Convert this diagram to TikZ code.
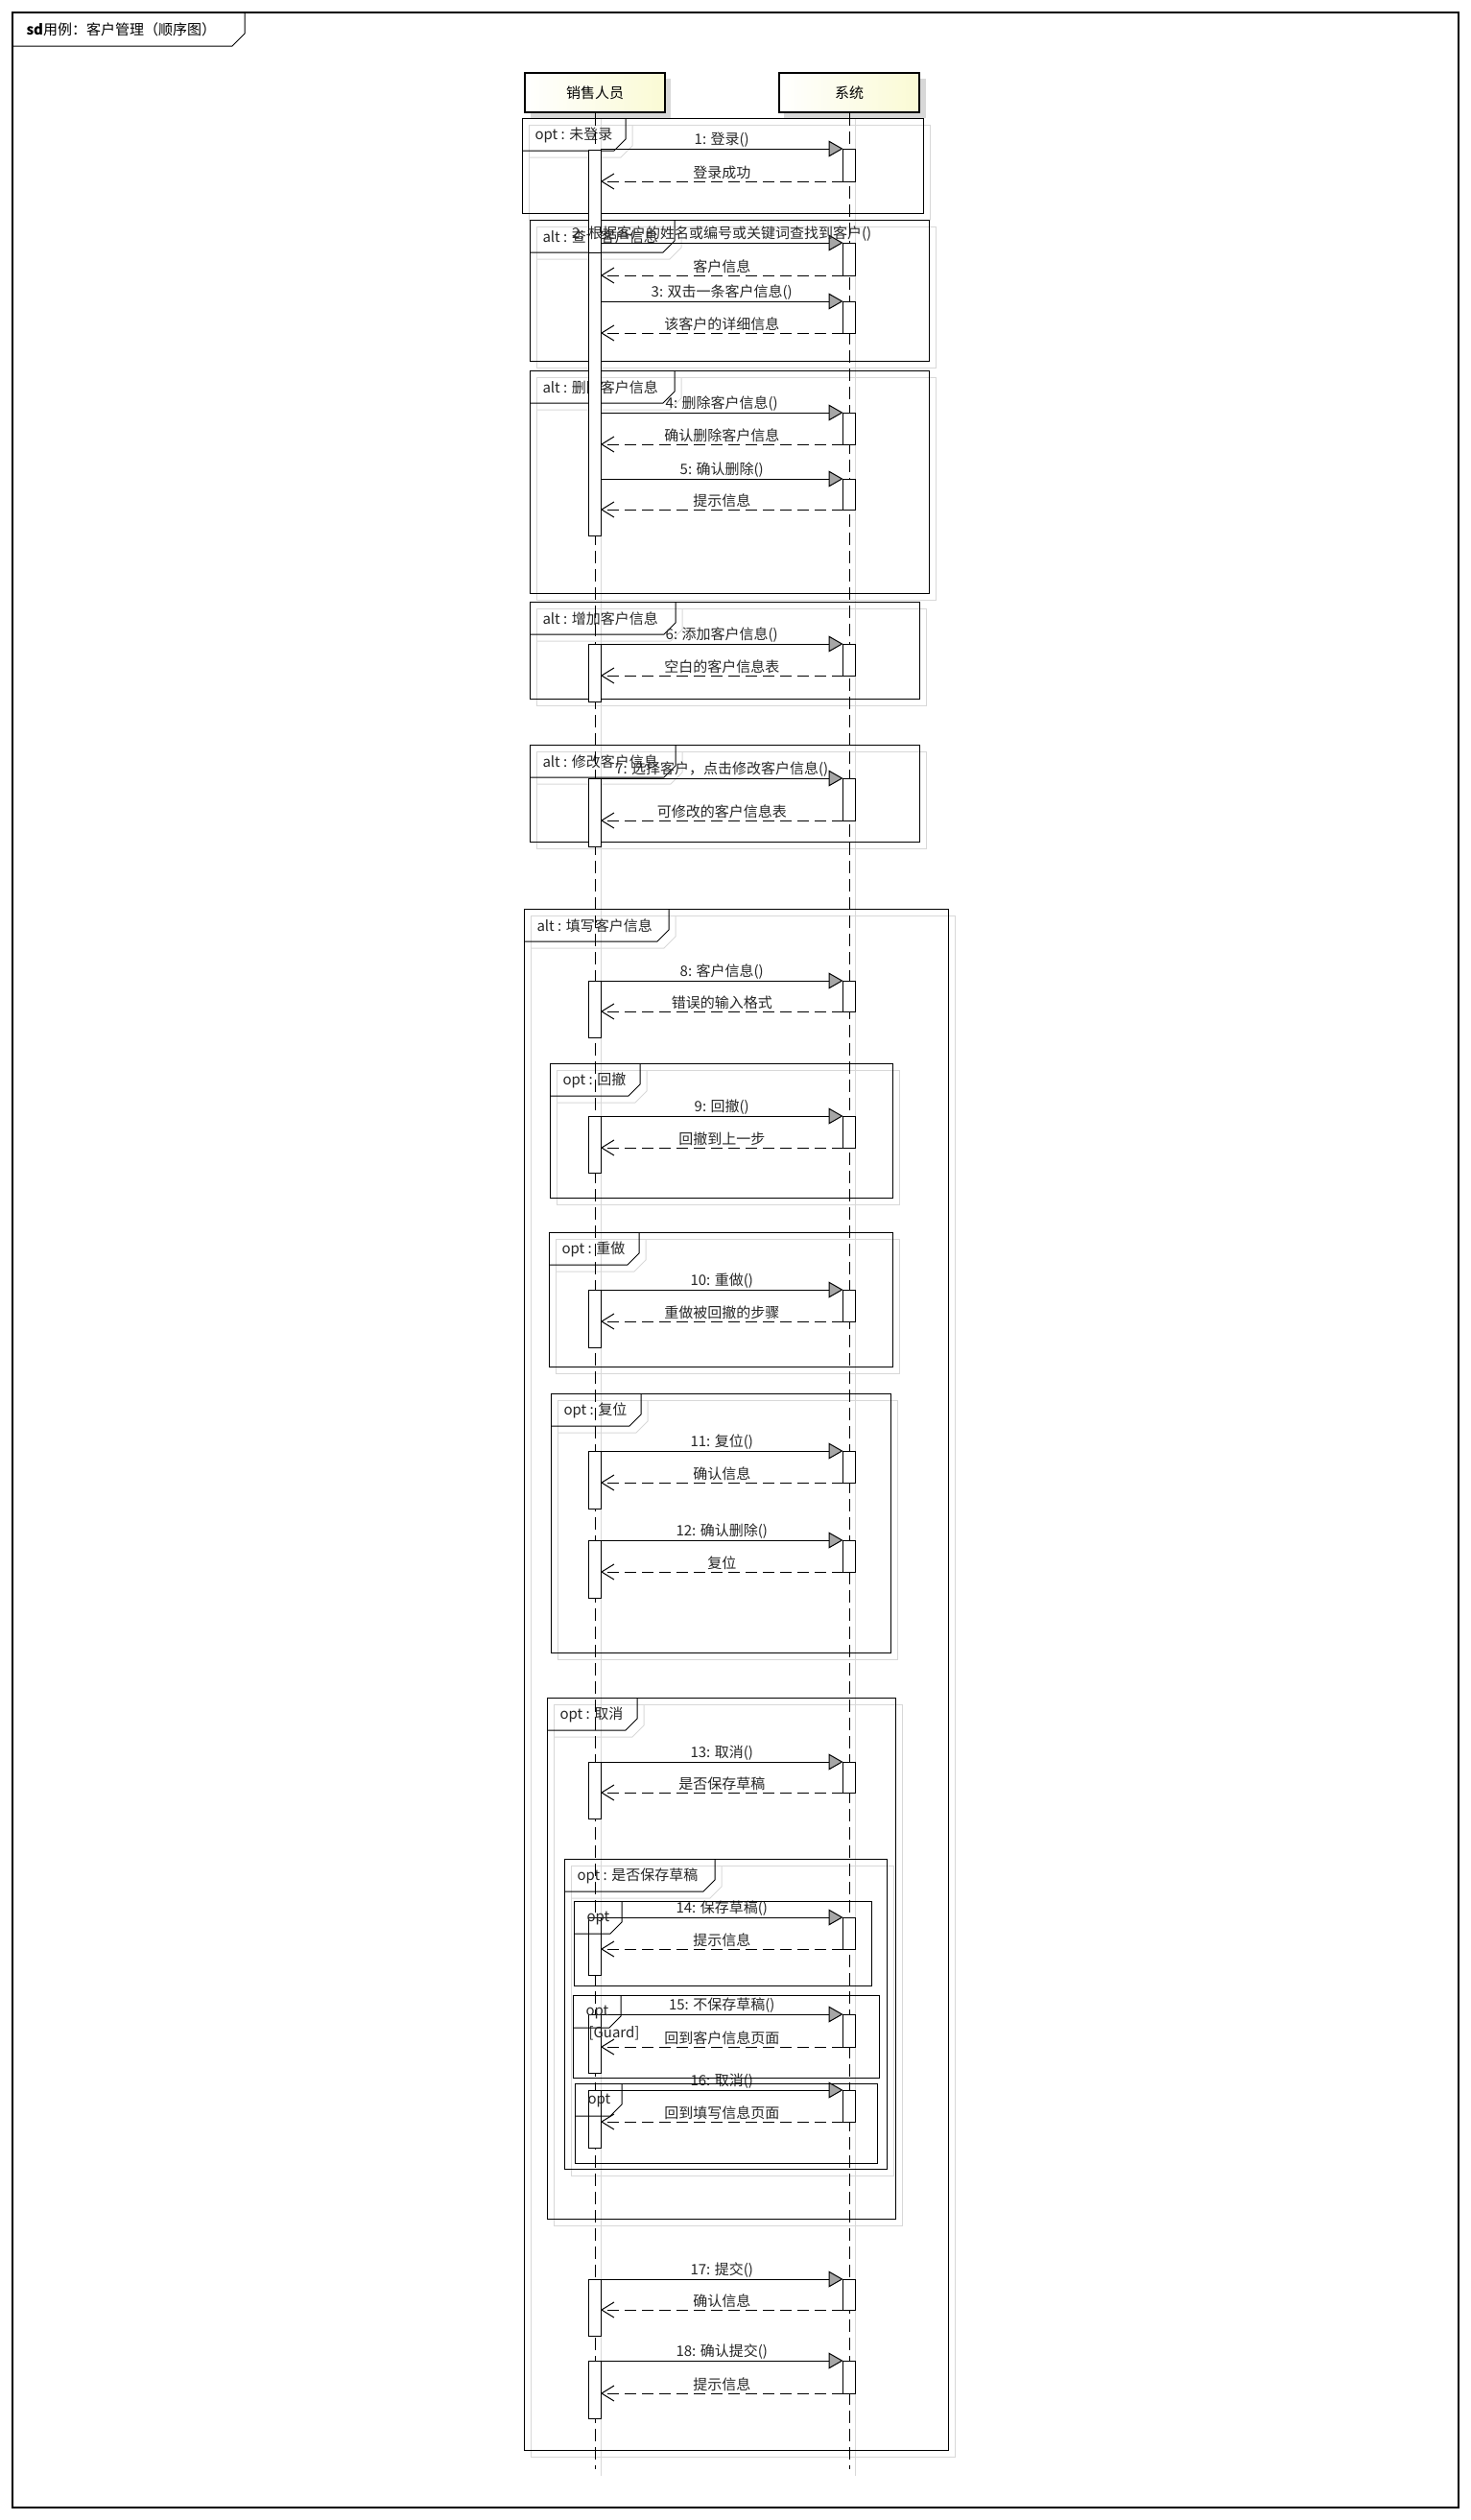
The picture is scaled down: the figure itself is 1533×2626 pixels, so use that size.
\documentclass[tikz,border=0pt]{standalone}
\usepackage{fontspec}
\setmainfont{Noto Sans CJK SC}
\usetikzlibrary{arrows.meta,positioning}
\definecolor{headfill}{RGB}{250,250,212}
\definecolor{shadowgray}{RGB}{216,216,216}

\begin{document}
\begin{tikzpicture}[x=1pt,y=-1pt,line width=1pt,
	font=\fontsize{15}{18}\selectfont,
	msg/.style={-{Triangle[length=15pt,width=17pt,fill=gray!70]}},
	reply/.style={dash pattern=on 12pt off 6pt,-{Straight Barb[length=13pt,width=16pt]}},
	lifeline/.style={dash pattern=on 13pt off 6pt},
	act/.style={draw,fill=white,minimum width=13pt,inner sep=0pt,outer sep=0pt,anchor=north},
	head/.style={draw,line width=2.5pt,minimum width=146pt,minimum height=41pt,left color=white,right color=headfill},
	tabtext/.style={anchor=west,inner sep=0pt,text=black!85},
	msglabel/.style={above,inner sep=1.5pt,text=black!85}]

	\useasboundingbox (0,0) rectangle (1533,2626);

	\def\framelist{544/123/962/222/652/{opt : 未登录},
		552/229/968/376/703/{alt : 查询客户信息},
		552/386/968/618/703/{alt : 删除客户信息},
		552/627/958/728/704/{alt : 增加客户信息},
		552/776/958/877/704/{alt : 修改客户信息},
		546/947/988/2553/697/{alt : 填写客户信息},
		573/1108/930/1248/667/{opt : 回撤},
		572/1284/930/1424/666/{opt : 重做},
		574/1452/928/1722/668/{opt : 复位},
		570/1769/933/2312/664/{opt : 取消},
		588/1937/924/2260/745/{opt : 是否保存草稿}}
	\def\innerlist{598/1981/908/2069/648/{opt},
		597/2079/916/2165/647/{opt},
		599/2171/914/2254/648/{opt}}

	% shadows
	\foreach \xa/\ya/\xb/\yb/\tr/\txt in \framelist,\innerlist{
		\draw[shadowgray] ({\xa+7},{\ya+7}) rectangle ({\xb+7},{\yb+7});
		\draw[shadowgray] ({\xa+7},{\ya+41}) -- ({\tr-5},{\ya+41}) -- ({\tr+7},{\ya+29}) -- ({\tr+7},{\ya+7});
	}
	\fill[shadowgray] (553,82) rectangle (699,123);
	\fill[shadowgray] (817,82) rectangle (965,123);
	\draw[shadowgray] (626,123) -- (626,2580);
	\draw[shadowgray] (891,123) -- (891,2580);

	% outer frame
	\draw[line width=1.5pt] (13,13) rectangle (1520,2613);
	\draw (13,48) -- (242,48) -- (255,35) -- (255,13);
	\node[tabtext,text=black] (title) at (27,31) {\textbf{sd}用例：客户管理（顺序图）};

	% combined fragments
	\foreach \xa/\ya/\xb/\yb/\tr/\txt [count=\i] in \framelist{
		\draw (\xa,\ya) rectangle (\xb,\yb);
		\draw (\tr,\ya) -- (\tr,{\ya+22}) -- ({\tr-12},{\ya+34}) -- (\xa,{\ya+34});
		\node[tabtext] (frag\i) at ({\xa+13},{\ya+18}) {\txt};
	}

	% lifelines
	\node[head] (sales) at (620,96.5) {销售人员};
	\node[head] (system) at (885,96.5) {系统};
	\coordinate (salesend) at (620,2573);
	\coordinate (systemend) at (885,2573);
	\draw[lifeline] (sales) -- (salesend);
	\draw[lifeline] (system) -- (systemend);

	% messages 1-5
	\node[act,minimum height=402] (sa0) at (619.5,156) {};
	\node[act,minimum height=107] (saq) at (619.5,156) {};
	\foreach \n/\ya/\yr/\ml/\rl in {1/155/189/{1: 登录()}/{登录成功},
		2/253/287/{2: 根据客户的姓名或编号或关键词查找到客户()}/{客户信息},
		3/314/347/{3: 双击一条客户信息()}/{该客户的详细信息},
		4/430/463/{4: 删除客户信息()}/{确认删除客户信息},
		5/499/531/{5: 确认删除()}/{提示信息}}{
		\node[act,minimum height={\yr-\ya}] (sy\n) at (885,\ya) {};
		\draw[msg] (sy\n.north west -| sa0.east) -- (sy\n.north west) node[midway,msglabel] {\ml};
		\draw[reply] (sy\n.south west) -- (sy\n.south west -| sa0.east) node[midway,msglabel] {\rl};
	}

	% messages 6-18
	\foreach \n/\ya/\yr/\ye/\ml/\rl in {6/671/704/731/{6: 添加客户信息()}/{空白的客户信息表},
		7/811/855/882/{7: 选择客户，点击修改客户信息()}/{可修改的客户信息表},
		8/1022/1054/1081/{8: 客户信息()}/{错误的输入格式},
		9/1163/1196/1222/{9: 回撤()}/{回撤到上一步},
		10/1344/1377/1404/{10: 重做()}/{重做被回撤的步骤},
		11/1512/1545/1572/{11: 复位()}/{确认信息},
		12/1605/1638/1665/{12: 确认删除()}/{复位},
		13/1836/1868/1895/{13: 取消()}/{是否保存草稿},
		14/1998/2031/2058/{14: 保存草稿()}/{提示信息},
		15/2099/2133/2160/{15: 不保存草稿()}/{回到客户信息页面},
		16/2178/2211/2238/{16: 取消()}/{回到填写信息页面},
		17/2375/2407/2434/{17: 提交()}/{确认信息},
		18/2460/2494/2520/{18: 确认提交()}/{提示信息}}{
		\node[act,minimum height={\ye-\ya}] (sa\n) at (619.5,\ya) {};
		\node[act,minimum height={\yr-\ya}] (sy\n) at (885,\ya) {};
		\draw[msg] (sa\n.north east) -- (sy\n.north west) node[midway,msglabel] {\ml};
		\draw[reply] (sy\n.south west) -- (sy\n.south west -| sa\n.east) node[midway,msglabel] {\rl};
	}

	% inner fragments on top of the activations
	\foreach \xa/\ya/\xb/\yb/\tr/\txt [count=\i from 12] in \innerlist{
		\draw (\xa,\ya) rectangle (\xb,\yb);
		\draw (\tr,\ya) -- (\tr,{\ya+22}) -- ({\tr-12},{\ya+34}) -- (\xa,{\ya+34});
		\node[tabtext] (frag\i) at ({\xa+13},{\ya+18}) {\txt};
	}
	\node[tabtext] (guard) at (613,2119) {[Guard]};
\end{tikzpicture}
\end{document}
